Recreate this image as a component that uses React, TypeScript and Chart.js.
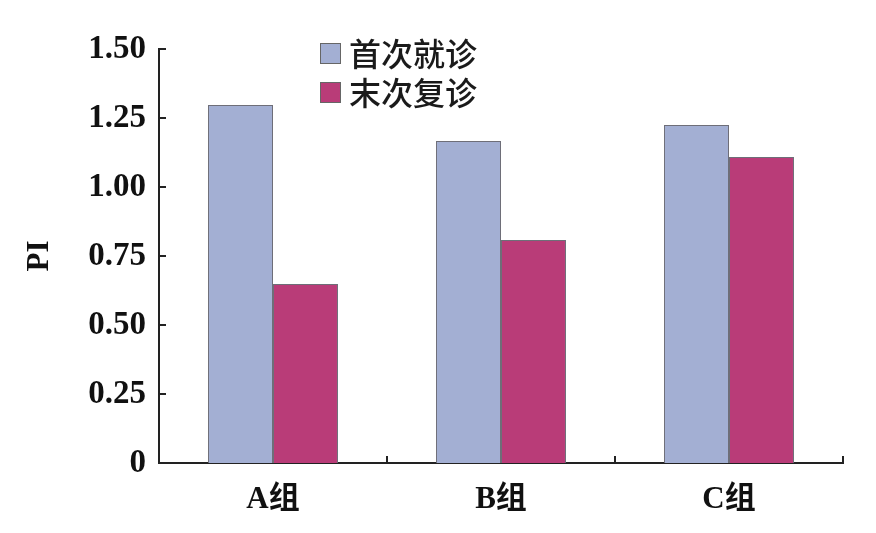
import React, { useEffect, useRef } from "react";
import { Chart, registerables } from "chart.js";

Chart.register(...registerables);

const categories = ["A组", "B组", "C组"];
const firstVisit = [1.297, 1.167, 1.225];
const lastVisit = [0.649, 0.808, 1.109];
const seriesNames = ["首次就诊", "末次复诊"];
const yTicks = [0, 0.25, 0.5, 0.75, 1.0, 1.25, 1.5];

const BLUE = "#a3afd3";
const MAGENTA = "#b93c78";
const FONT = "'Liberation Serif', 'Noto Sans CJK SC', serif";
const CJK = "'Noto Sans CJK SC', sans-serif";

const decorPlugin = {
  id: "decor",
  afterDraw(chart: any) {
    const ctx = chart.ctx;
    const area = chart.chartArea;
    const y = chart.scales.y;
    const x = chart.scales.x;
    ctx.save();
    ctx.strokeStyle = "#222";
    ctx.lineWidth = 2;
    yTicks.forEach((v) => {
      const py = Math.round(y.getPixelForValue(v));
      ctx.beginPath();
      ctx.moveTo(area.left, py);
      ctx.lineTo(area.left + 7, py);
      ctx.stroke();
    });
    for (let i = 0; i <= categories.length; i++) {
      const px = Math.round(x.getPixelForValue(i - 0.5));
      ctx.beginPath();
      ctx.moveTo(px, area.bottom);
      ctx.lineTo(px, area.bottom - 7);
      ctx.stroke();
    }
    const colors = [BLUE, MAGENTA];
    const lx = area.left + 161;
    const ly0 = 53;
    ctx.font = `500 32px ${CJK}`;
    ctx.textBaseline = "middle";
    ctx.textAlign = "left";
    seriesNames.forEach((name, i) => {
      const cy = ly0 + i * 39;
      ctx.fillStyle = colors[i];
      ctx.fillRect(lx, cy - 10, 21, 21);
      ctx.lineWidth = 1;
      ctx.strokeStyle = "#666";
      ctx.strokeRect(lx + 0.5, cy - 9.5, 20, 20);
      ctx.fillStyle = "#1a1a1a";
      ctx.fillText(name, lx + 29, cy + 1);
    });
    ctx.restore();
  },
};

export default function App() {
  const ref = useRef<HTMLCanvasElement | null>(null);
  useEffect(() => {
    document.body.style.margin = "0";
    const chart = new Chart(ref.current as HTMLCanvasElement, {
      type: "bar",
      data: {
        labels: categories,
        datasets: [
          {
            label: seriesNames[0],
            data: firstVisit,
            backgroundColor: BLUE,
            borderColor: "#6e6e78",
            borderWidth: 1,
            categoryPercentage: 0.57,
            barPercentage: 1,
          },
          {
            label: seriesNames[1],
            data: lastVisit,
            backgroundColor: MAGENTA,
            borderColor: "#6e6e78",
            borderWidth: 1,
            categoryPercentage: 0.57,
            barPercentage: 1,
          },
        ],
      },
      options: {
        animation: false,
        responsive: false,
        maintainAspectRatio: false,
        layout: { padding: { left: 0, right: 33, top: 49, bottom: 0 } },
        plugins: {
          legend: { display: false },
          tooltip: { enabled: false },
        },
        scales: {
          x: {
            grid: { display: false, drawTicks: false },
            border: { display: true, color: "#222", width: 2 },
            ticks: {
              color: "#111",
              padding: 18,
              font: { family: FONT, size: 31, weight: "bold" },
            },
            afterFit: (s: any) => {
              s.height = 70;
            },
          },
          y: {
            min: 0,
            max: 1.5,
            afterBuildTicks: (s: any) => {
              s.ticks = yTicks.map((v) => ({ value: v }));
            },
            grid: { display: false, drawTicks: false },
            border: { display: true, color: "#222", width: 2 },
            ticks: {
              color: "#111",
              padding: 13,
              font: { family: FONT, size: 33, weight: "bold" },
              callback: (v: any) => (Number(v) === 0 ? "0" : Number(v).toFixed(2)),
            },
            title: {
              display: true,
              text: "PI",
              color: "#111",
              padding: { top: 21, bottom: 0 },
              font: { family: FONT, size: 31, weight: "bold" },
            },
            afterFit: (s: any) => {
              s.width = 159;
            },
          },
        },
      },
      plugins: [decorPlugin],
    });
    return () => chart.destroy();
  }, []);
  return (
    <div style={{ width: 876, height: 533, background: "#fff" }}>
      <canvas ref={ref} width={876} height={533} />
    </div>
  );
}
